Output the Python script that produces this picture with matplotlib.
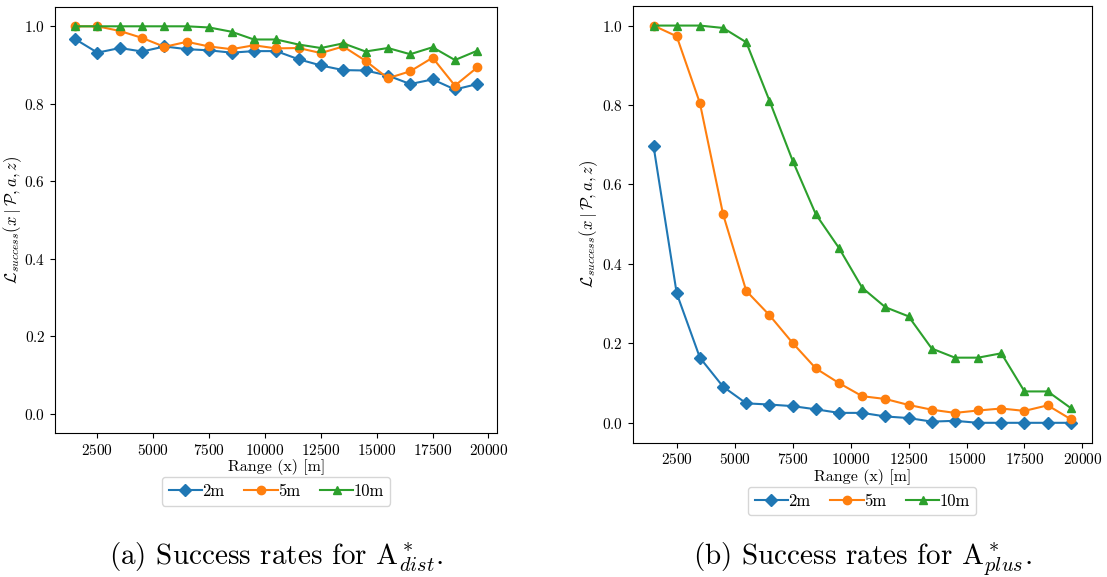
import matplotlib
matplotlib.use("Agg")
import matplotlib.pyplot as plt

plt.rcParams['font.family'] = 'serif'
plt.rcParams['font.serif'] = ['cmr10']
plt.rcParams['mathtext.fontset'] = 'cm'
plt.rcParams['axes.formatter.use_mathtext'] = True

# range bins (m)
ranges = [1500, 2500, 3500, 4500, 5500, 6500, 7500, 8500, 9500, 10500,
          11500, 12500, 13500, 14500, 15500, 16500, 17500, 18500, 19500]

# A*_dist success rates
dist_2m = [0.967, 0.932, 0.944, 0.935, 0.948, 0.941, 0.938, 0.932, 0.936, 0.936,
           0.915, 0.899, 0.887, 0.886, 0.873, 0.851, 0.863, 0.837, 0.851]
dist_5m = [1.0, 1.0, 0.988, 0.970, 0.947, 0.960, 0.948, 0.941, 0.951, 0.943,
           0.944, 0.931, 0.948, 0.911, 0.866, 0.884, 0.919, 0.847, 0.894]
dist_10m = [1.0, 1.0, 1.0, 1.0, 1.0, 1.0, 0.997, 0.986, 0.966, 0.966,
            0.953, 0.944, 0.956, 0.935, 0.944, 0.928, 0.946, 0.913, 0.937]

# A*_plus success rates
plus_2m = [0.697, 0.326, 0.164, 0.091, 0.049, 0.046, 0.042, 0.034, 0.025, 0.025,
           0.016, 0.012, 0.003, 0.005, 0.0, 0.0, 0.0, 0.0, 0.0]
plus_5m = [1.0, 0.973, 0.805, 0.525, 0.332, 0.271, 0.201, 0.137, 0.100, 0.067,
           0.060, 0.045, 0.033, 0.025, 0.031, 0.036, 0.030, 0.044, 0.009]
plus_10m = [1.0, 1.0, 1.0, 0.994, 0.958, 0.811, 0.660, 0.525, 0.440, 0.340,
            0.291, 0.268, 0.187, 0.164, 0.164, 0.175, 0.079, 0.079, 0.037]

labels = ['2m', '5m', '10m']
markers = ['D', 'o', '^']
colors = ['#1f77b4', '#ff7f0e', '#2ca02c']

fig = plt.figure(figsize=(11.07, 5.77), dpi=100)
ax1 = fig.add_axes([0.0497, 0.249, 0.3996, 0.739])
ax2 = fig.add_axes([0.5715, 0.2328, 0.4147, 0.7573])


def draw(ax, series, caption, legend_y, ylab_x):
    for vals, lab, m, c in zip(series, labels, markers, colors):
        ax.plot(ranges, vals, marker=m, color=c, label=lab, markersize=6, linewidth=1.5)
    ax.set_ylim(-0.05, 1.05)
    ax.set_xlabel('Range (x) [m]', fontsize=11.5, labelpad=1)
    ax.set_ylabel(r'$\mathcal{L}_{success}(x \mid \mathcal{P}, a, z)$', fontsize=12)
    ax.yaxis.set_label_coords(ylab_x, 0.5)
    ax.tick_params(labelsize=11)
    ax.legend(loc='upper center', bbox_to_anchor=(0.5, legend_y), ncol=3,
              fontsize=12, handletextpad=0.0, columnspacing=1.2)
    # subfigure caption under each panel
    pos = ax.get_position()
    fig.text((pos.x0 + pos.x1) / 2, 0.021, caption, ha='center', va='baseline', fontsize=21)


draw(ax1, [dist_2m, dist_5m, dist_10m], r'(a) Success rates for $\mathrm{A}^*_{dist}$.', -0.083, -0.07)
draw(ax2, [plus_2m, plus_5m, plus_10m], r'(b) Success rates for $\mathrm{A}^*_{plus}$.', -0.082, -0.072)

fig.savefig('out.png', dpi=100)
